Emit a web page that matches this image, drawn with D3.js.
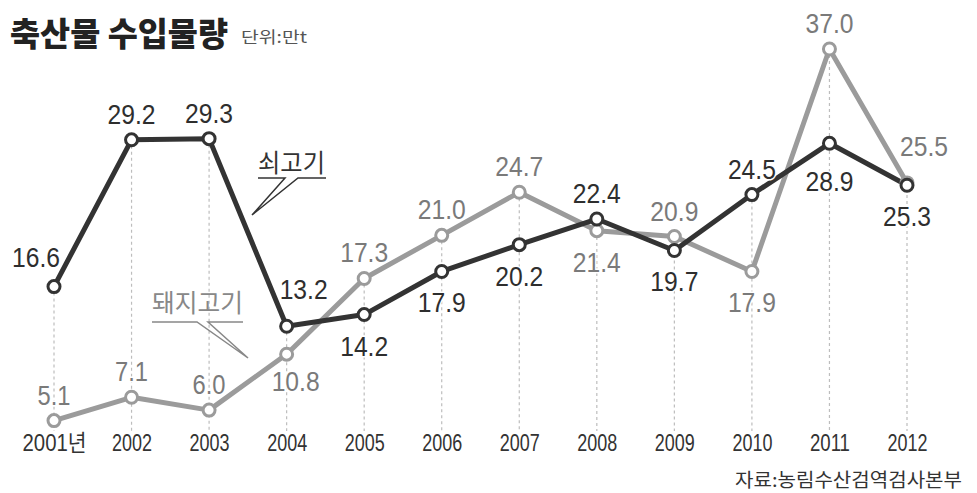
<!DOCTYPE html>
<html>
<head>
<meta charset="utf-8">
<script src="https://cdn.jsdelivr.net/npm/d3@7"></script>
<style>
  html, body { margin: 0; padding: 0; background: #fff; }
  svg { display: block; }
</style>
</head>
<body>
<svg id="chart" width="977" height="493"></svg>
<script>
// Livestock import volume (unit: 10,000 t)
const years = ["2001", "2002", "2003", "2004", "2005", "2006", "2007", "2008", "2009", "2010", "2011", "2012"];
const yearLabels = ["2001년", "2002", "2003", "2004", "2005", "2006", "2007", "2008", "2009", "2010", "2011", "2012"];
const beef = [16.6, 29.2, 29.3, 13.2, 14.2, 17.9, 20.2, 22.4, 19.7, 24.5, 28.9, 25.3];
const pork = [5.1, 7.1, 6.0, 10.8, 17.3, 21.0, 24.7, 21.4, 20.9, 17.9, 37.0, 25.5];
// where each value label sits relative to its point
const beefLabelSide = ["upLeft", "up", "up", "upRight", "down", "down", "down", "up", "down", "up", "downFar", "down"];
const porkLabelSide = ["up", "up", "up", "downRight", "up", "up", "up", "down", "up", "down", "up", "upRight"];

const labelOffset = {
  up: [0, -16],
  down: [0, 41],
  downFar: [0, 48],
  upLeft: [-18, -20],
  upRight: [17, -27],
  downRight: [9, 37],
};

const svg = d3.select("#chart");

const x = d3.scalePoint().domain(years).range([54, 907]);
const y = d3.scaleLinear().domain([0, 40]).range([480, 14]);

const BEEF = "#333333";
const PORK = "#9b9b9b";

// title
svg.append("text")
  .attr("x", 10).attr("y", 46)
  .attr("font-family", "'Noto Sans CJK KR', sans-serif")
  .attr("font-weight", 900)
  .attr("font-size", 33)
  .attr("fill", "#222")
  .attr("textLength", 218)
  .attr("lengthAdjust", "spacingAndGlyphs")
  .text("축산물 수입물량");
svg.append("text")
  .attr("x", 241).attr("y", 43)
  .attr("font-family", "'Noto Sans CJK KR', sans-serif")
  .attr("font-size", 16)
  .attr("fill", "#555")
  .attr("textLength", 66)
  .attr("lengthAdjust", "spacingAndGlyphs")
  .text("단위:만t");

// dashed drop lines from each year's top point
const grid = svg.append("g");
years.forEach((yr, i) => {
  grid.append("line")
    .attr("x1", x(yr)).attr("x2", x(yr))
    .attr("y1", y(Math.max(beef[i], pork[i])))
    .attr("y2", 431)
    .attr("stroke", "#bdbdbd")
    .attr("stroke-width", 1.2)
    .attr("stroke-dasharray", "3,3");
});

// year axis, condensed lettering
const axis = d3.axisBottom(x).tickSize(0).tickFormat((d, i) => yearLabels[i]);
const axisG = svg.append("g").attr("transform", "translate(0,435)").call(axis);
axisG.select(".domain").remove();
axisG.selectAll("text")
  .attr("font-family", "'Liberation Sans', Arial, 'Noto Sans CJK KR', sans-serif")
  .attr("font-size", 23)
  .attr("fill", "#333")
  .attr("dy", "0.71em")
  .attr("y", 0)
  .attr("textLength", (d, i) => yearLabels[i].length > 4 ? 64 : 40)
  .attr("lengthAdjust", "spacingAndGlyphs");

const line = d3.line().x((d, i) => x(years[i])).y(d => y(d));

function drawLine(values, color) {
  svg.append("path")
    .datum(values)
    .attr("d", line)
    .attr("fill", "none")
    .attr("stroke", color)
    .attr("stroke-width", 5)
    .attr("stroke-linejoin", "round");
}
function drawDots(values, color) {
  svg.append("g").selectAll("circle")
    .data(values)
    .join("circle")
    .attr("cx", (d, i) => x(years[i]))
    .attr("cy", d => y(d))
    .attr("r", 6)
    .attr("fill", "#fff")
    .attr("stroke", color)
    .attr("stroke-width", 3);
}
function drawLabels(values, sides, color) {
  svg.append("g").selectAll("text")
    .data(values)
    .join("text")
    .attr("x", (d, i) => x(years[i]) + labelOffset[sides[i]][0])
    .attr("y", (d, i) => y(d) + labelOffset[sides[i]][1])
    .attr("text-anchor", "middle")
    .attr("font-family", "'Liberation Sans', Arial, sans-serif")
    .attr("font-size", 27)
    .attr("fill", color)
    .attr("stroke", "#fff")
    .attr("stroke-width", 3)
    .attr("paint-order", "stroke")
    .attr("textLength", d => d.toFixed(1).length > 3 ? 48 : 33)
    .attr("lengthAdjust", "spacingAndGlyphs")
    .text(d => d.toFixed(1));
}

drawLine(pork, PORK);
drawLine(beef, BEEF);
drawDots(pork, PORK);
drawDots(beef, BEEF);
drawLabels(pork, porkLabelSide, "#7a7a7a");
drawLabels(beef, beefLabelSide, "#2e2e2e");

// series callouts
function callout(text, tx, ty, width, path, color) {
  svg.append("text")
    .attr("x", tx).attr("y", ty)
    .attr("font-family", "'Noto Sans CJK KR', sans-serif")
    .attr("font-size", 25)
    .attr("fill", color)
    .attr("textLength", width)
    .attr("lengthAdjust", "spacingAndGlyphs")
    .text(text);
  svg.append("path")
    .attr("d", path)
    .attr("fill", "none")
    .attr("stroke", color)
    .attr("stroke-width", 1.5)
    .attr("stroke-linejoin", "miter");
}
callout("쇠고기", 258, 172, 67, "M258,178 H285 L252,215 L298,178 H326", "#333");
callout("돼지고기", 152, 312, 91, "M152,322 H197 L248,358 L208,322 H243", "#888");

// source
svg.append("text")
  .attr("x", 962).attr("y", 487)
  .attr("text-anchor", "end")
  .attr("font-family", "'Noto Sans CJK KR', sans-serif")
  .attr("font-size", 19)
  .attr("fill", "#333")
  .attr("textLength", 227)
  .attr("lengthAdjust", "spacingAndGlyphs")
  .text("자료:농림수산검역검사본부");
</script>
</body>
</html>
